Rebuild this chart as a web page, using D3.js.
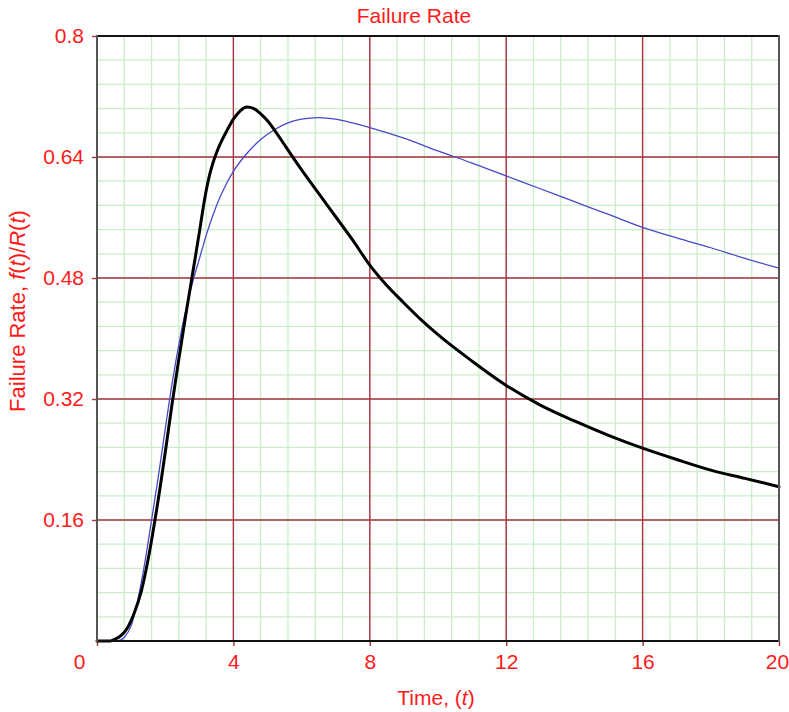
<!DOCTYPE html>
<html>
<head>
<meta charset="utf-8">
<script src="https://cdn.jsdelivr.net/npm/d3@7"></script>
<style>
  html, body { margin: 0; padding: 0; background: #fff; }
  svg { display: block; font-family: "Liberation Sans", Arial, sans-serif; }
</style>
</head>
<body>
<svg id="chart" width="789" height="712"></svg>
<script>
// Time samples (t) and hazard values for the two fitted models
const timeA = [0, 0.4, 0.5, 0.7, 0.9, 1.1, 1.3, 1.5, 1.7, 1.8, 1.9, 2.0, 2.2, 2.4, 2.6, 2.8, 3.0, 3.1, 3.2, 3.3, 3.4, 3.5, 3.6, 3.8, 4.0, 4.2, 4.4, 4.6, 4.8, 5.0, 5.2, 5.5, 6.0, 6.5, 7.0, 7.5, 8.0, 8.5, 9.0, 9.5, 10, 11, 12, 13, 14, 15, 16, 17, 18, 19, 20];
const rateA = [0, 0, 0.002, 0.007, 0.018, 0.038, 0.066, 0.108, 0.16, 0.188, 0.218, 0.249, 0.313, 0.373, 0.43, 0.485, 0.54, 0.569, 0.595, 0.616, 0.632, 0.645, 0.656, 0.674, 0.69, 0.701, 0.706, 0.704, 0.697, 0.688, 0.676, 0.656, 0.623, 0.592, 0.561, 0.53, 0.497, 0.47, 0.447, 0.425, 0.405, 0.37, 0.338, 0.312, 0.291, 0.272, 0.255, 0.24, 0.226, 0.215, 0.204];

const timeB = [0, 0.6, 0.8, 1.0, 1.2, 1.4, 1.6, 1.8, 2.0, 2.2, 2.4, 2.6, 2.8, 3.0, 3.2, 3.4, 3.6, 3.8, 4.0, 4.4, 4.8, 5.2, 5.6, 6.0, 6.5, 7.0, 7.5, 8, 9, 10, 11, 12, 13, 14, 15, 16, 17, 18, 19, 20];
const rateB = [0, 0, 0.005, 0.02, 0.055, 0.103, 0.16, 0.218, 0.28, 0.34, 0.392, 0.437, 0.474, 0.505, 0.536, 0.563, 0.586, 0.605, 0.621, 0.645, 0.663, 0.676, 0.685, 0.69, 0.692, 0.69, 0.685, 0.679, 0.665, 0.648, 0.632, 0.615, 0.598, 0.581, 0.564, 0.547, 0.533, 0.52, 0.506, 0.493];

const xTickValues = [0, 4, 8, 12, 16, 20];
const yTickValues = [0.16, 0.32, 0.48, 0.64, 0.8];
const yTickLabels = ["0.16", "0.32", "0.48", "0.64", "0.8"];

const W = 789, H = 712;
const margin = { top: 36, right: 10, bottom: 71, left: 97 };
const red = "#ff1a1a";
const fontSize = 21;

const svg = d3.select("#chart");
const x = d3.scaleLinear().domain([0, 20]).range([margin.left, W - margin.right]);
const y = d3.scaleLinear().domain([0, 0.8]).range([H - margin.bottom, margin.top]);

const g = svg.append("g");

// Minor grid (5 subdivisions per major step)
const xMinor = d3.range(0, 20.0001, 0.8);
const yMinor = d3.range(0, 0.8001, 0.032);
g.append("g").selectAll("line").data(xMinor).join("line")
  .attr("x1", d => x(d)).attr("x2", d => x(d))
  .attr("y1", y(0)).attr("y2", y(0.8))
  .attr("stroke", "#c8eec8").attr("stroke-width", 1.3);
g.append("g").selectAll("line").data(yMinor).join("line")
  .attr("x1", x(0)).attr("x2", x(20))
  .attr("y1", d => y(d)).attr("y2", d => y(d))
  .attr("stroke", "#c8eec8").attr("stroke-width", 1.3);

// Major grid
const majorColor = "#a8323f";
g.append("g").selectAll("line").data(xTickValues).join("line")
  .attr("x1", d => x(d)).attr("x2", d => x(d))
  .attr("y1", y(0)).attr("y2", y(0.8))
  .attr("stroke", majorColor).attr("stroke-width", 1.4);
g.append("g").selectAll("line").data(yTickValues).join("line")
  .attr("x1", x(0)).attr("x2", x(20))
  .attr("y1", d => y(d)).attr("y2", d => y(d))
  .attr("stroke", majorColor).attr("stroke-width", 1.4);

// Axes (ticks outward, labels in red)
const xAxis = d3.axisBottom(x).tickValues(xTickValues).tickSize(5).tickPadding(8).tickFormat(d3.format("d"));
const yAxis = d3.axisLeft(y).tickValues(yTickValues).tickSize(5).tickPadding(8)
  .tickFormat((d, i) => yTickLabels[i]);

const gx = svg.append("g").attr("transform", `translate(0,${y(0)})`).call(xAxis);
const gy = svg.append("g").attr("transform", `translate(${x(0)},0)`).call(yAxis);
[gx, gy].forEach(a => {
  a.select(".domain").remove();
  a.selectAll(".tick line").attr("stroke", majorColor).attr("stroke-width", 1.4);
  a.selectAll(".tick text").attr("fill", red).attr("font-size", fontSize)
    .attr("font-family", "Liberation Sans, Arial, sans-serif");
});
gx.selectAll(".tick text").attr("dy", "0.71em");
gx.selectAll(".tick").filter(d => d === 0).select("text").attr("dx", -18);
gx.selectAll(".tick").filter(d => d === 20).select("text").attr("dx", -2);

// Curves
const line = d3.line().x(d => x(d[0])).y(d => y(d[1])).curve(d3.curveMonotoneX);
const seriesB = timeB.map((t, i) => [t, rateB[i]]);
const seriesA = timeA.map((t, i) => [t, rateA[i]]);
svg.append("path").datum(seriesB).attr("d", line)
  .attr("fill", "none").attr("stroke", "#4848c8").attr("stroke-width", 1.3);
svg.append("path").datum(seriesA).attr("d", line)
  .attr("fill", "none").attr("stroke", "#000").attr("stroke-width", 3)
  .attr("stroke-linejoin", "round").attr("stroke-linecap", "round");

// Plot frame
svg.append("line").attr("x1", x(0)).attr("x2", x(20)).attr("y1", y(0.8)).attr("y2", y(0.8))
  .attr("stroke", "#111").attr("stroke-width", 2);
svg.append("line").attr("x1", x(0)).attr("x2", x(20)).attr("y1", y(0)).attr("y2", y(0))
  .attr("stroke", "#111").attr("stroke-width", 2);
svg.append("line").attr("x1", x(0)).attr("x2", x(0)).attr("y1", y(0.8) - 1).attr("y2", y(0) + 1)
  .attr("stroke", "#555").attr("stroke-width", 2);
svg.append("line").attr("x1", x(20)).attr("x2", x(20)).attr("y1", y(0.8) - 1).attr("y2", y(0) + 1)
  .attr("stroke", "#555").attr("stroke-width", 2);

// Titles
svg.append("text").attr("x", 414).attr("y", 23).attr("text-anchor", "middle")
  .attr("fill", red).attr("font-size", fontSize).text("Failure Rate");

const xt = svg.append("text").attr("x", 436).attr("y", 705).attr("text-anchor", "middle")
  .attr("fill", red).attr("font-size", fontSize);
xt.append("tspan").text("Time, (");
xt.append("tspan").attr("font-style", "italic").text("t");
xt.append("tspan").text(")");

const yt = svg.append("text").attr("transform", "translate(25,311) rotate(-90)")
  .attr("text-anchor", "middle").attr("fill", red).attr("font-size", 22);
yt.append("tspan").text("Failure Rate, ");
yt.append("tspan").attr("font-style", "italic").text("f");
yt.append("tspan").text("(");
yt.append("tspan").attr("font-style", "italic").text("t");
yt.append("tspan").text(")/");
yt.append("tspan").attr("font-style", "italic").text("R");
yt.append("tspan").text("(");
yt.append("tspan").attr("font-style", "italic").text("t");
yt.append("tspan").text(")");
</script>
</body>
</html>
